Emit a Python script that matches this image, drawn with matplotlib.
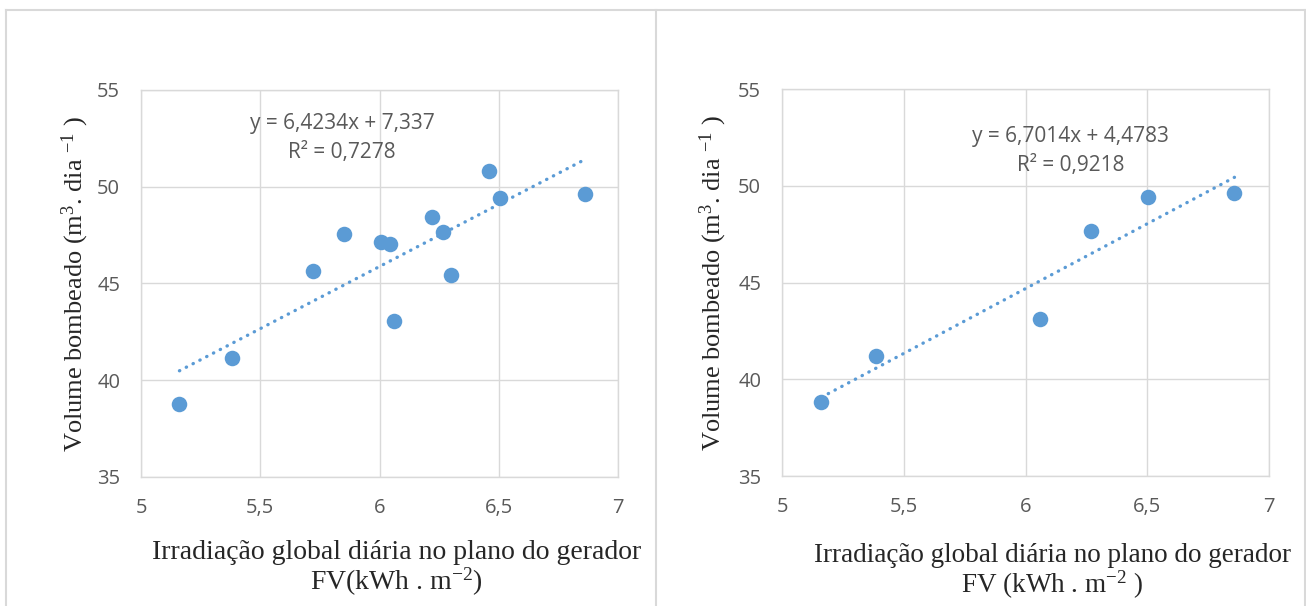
import numpy as np
import matplotlib
matplotlib.use("Agg")
import matplotlib.pyplot as plt
from matplotlib.lines import Line2D

plt.rcParams['mathtext.fontset'] = 'custom'
plt.rcParams['mathtext.rm'] = 'Liberation Serif'
plt.rcParams['mathtext.it'] = 'Liberation Serif:italic'

# irradiation (kWh/m2) vs pumped volume (m3/dia)
irr_all = [5.161, 5.383, 5.721, 5.853, 6.006, 6.043, 6.061, 6.220, 6.268, 6.301, 6.458, 6.505, 6.860]
vol_all = [38.79, 41.15, 45.66, 47.54, 47.13, 47.02, 43.08, 48.45, 47.64, 45.42, 50.83, 49.40, 49.63]

irr_sel = [5.162, 5.384, 6.060, 6.268, 6.504, 6.858]
vol_sel = [38.84, 41.19, 43.12, 47.65, 49.40, 49.64]

# trendline coefficients as shown in the chart
fit_all = (6.4234, 7.337, 0.7278)
fit_sel = (6.7014, 4.4783, 0.9218)

xticks = [5, 5.5, 6, 6.5, 7]
xtick_labels = ['5', '5,5', '6', '6,5', '7']
yticks = [35, 40, 45, 50, 55]

blue = '#5B9BD5'
grid_c = '#D9D9D9'
txt_c = '#595959'
serif = 'Liberation Serif'
sans = 'Open Sans'

fig = plt.figure(figsize=(13.06, 6.06), dpi=100)

panels = [
    ([0.108, 0.2129, 0.3652, 0.6386], irr_all, vol_all, fit_all, (5.843, 52.5),
     'FV(kWh . m$^{-2}$)', 0.535, -0.238, -0.138, 20),
    ([0.5988, 0.2145, 0.3729, 0.6386], irr_sel, vol_sel, fit_sel, (6.184, 51.78),
     'FV (kWh . m$^{-2}$ )', 0.555, -0.248, -0.142, 19.5),
]

for rect, xs, ys, fit, eq_pos, xl2, xlx, xly, ylx, xfs in panels:
    ax = fig.add_axes(rect)
    slope, icpt, r2 = fit
    ax.scatter(xs, ys, s=125, color=blue, zorder=3, linewidths=0)
    tx = np.array([min(xs), max(xs)])
    ax.plot(tx, slope * tx + icpt, color=blue, lw=2.4, linestyle=(0, (0.1, 2.2)),
            dash_capstyle='round', zorder=2)
    eq = 'y = %sx + %s' % (f'{slope:.4f}'.replace('.', ','), str(icpt).replace('.', ','))
    ax.text(eq_pos[0], eq_pos[1], eq + '\nR² = ' + f'{r2:.4f}'.replace('.', ','),
            ha='center', va='center', fontsize=15, color=txt_c, family=sans,
            linespacing=1.5, multialignment='center')

    ax.set_xlim(5, 7)
    ax.set_ylim(35, 55)
    ax.set_xticks(xticks)
    ax.set_xticklabels(xtick_labels)
    ax.set_yticks(yticks)
    ax.grid(True, color=grid_c, lw=1.0)
    ax.set_axisbelow(True)
    for sp in ax.spines.values():
        sp.set_color(grid_c)
        sp.set_linewidth(1.0)
    ax.tick_params(length=0, labelsize=14.5, labelcolor=txt_c, pad=15)
    for lab in ax.get_xticklabels() + ax.get_yticklabels():
        lab.set_family(sans)

    ax.set_ylabel('Volume bombeado (m$^{3}$. dia $^{-1}$ )', fontsize=19,
                  family=serif, color='#262626')
    ax.yaxis.set_label_coords(ylx, 0.5)
    ax.yaxis.label.set_va('center')
    ax.set_xlabel('Irradiação global diária no plano do gerador\n' + xl2, fontsize=xfs,
                  family=serif, color='#262626', linespacing=1.0)
    ax.xaxis.set_label_coords(xlx, xly)
    ax.xaxis.label.set_va('center')

# panel borders
border = dict(color=grid_c, lw=1.5, transform=fig.transFigure)
top = 1 - 10 / 606
fig.add_artist(Line2D([0.0046, 0.9992], [top, top], **border))
for xb in [0.0046, 0.5023, 0.9992]:
    fig.add_artist(Line2D([xb, xb], [0, top], **border))

fig.savefig('out.png', dpi=100)
